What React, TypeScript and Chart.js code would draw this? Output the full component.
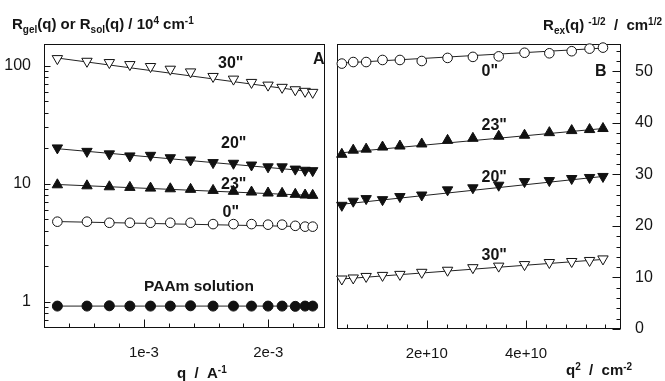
import React, { useEffect, useRef } from 'react';
import { Chart, registerables } from 'chart.js';

Chart.register(...registerables);

// ---------- DATA ----------
// Panel A: q in Å^-1
const qA = [3.04e-4, 5.42e-4, 7.22e-4, 8.87e-4, 1.053e-3, 1.212e-3, 1.375e-3, 1.556e-3, 1.72e-3, 1.865e-3, 1.998e-3, 2.111e-3, 2.217e-3, 2.296e-3, 2.357e-3];
const rgel30 = [114.7, 108.9, 106.2, 102.1, 98.3, 93.3, 88.5, 81.0, 76.9, 72.1, 68.4, 65.5, 62.5, 60.6, 59.4];
const rgel20 = [20.1, 18.8, 17.9, 17.2, 17.4, 16.6, 15.9, 15.1, 14.9, 14.4, 13.9, 13.9, 13.3, 13.0, 12.9];
const rgel23 = [9.79, 9.6, 9.42, 9.31, 9.18, 9.06, 8.96, 8.78, 8.62, 8.5, 8.34, 8.29, 8.13, 8.02, 7.97];
const rgel0 = [4.77, 4.77, 4.67, 4.67, 4.67, 4.67, 4.67, 4.55, 4.55, 4.55, 4.5, 4.5, 4.4, 4.33, 4.33];
const rsol = [0.92, 0.92, 0.925, 0.92, 0.92, 0.92, 0.925, 0.92, 0.92, 0.92, 0.92, 0.92, 0.915, 0.92, 0.92];
// fitted lines of panel A (first / last q)
const fitA_x = [3.04e-4, 2.357e-3];
const fitA30 = [116, 59.5];
const fitA20 = [19.8, 12.7];
const fitA23 = [9.85, 7.95];
const fitA0 = [4.78, 4.32];
const fitAsol = [0.92, 0.92];

// Panel B: q^2 in cm^-2
const q2B = [0.29e10, 0.52e10, 0.78e10, 1.11e10, 1.46e10, 1.9e10, 2.42e10, 2.93e10, 3.45e10, 3.97e10, 4.47e10, 4.92e10, 5.28e10, 5.55e10];
const rex0 = [51.5, 51.8, 51.8, 52.2, 52.2, 52.0, 52.6, 52.8, 52.9, 53.6, 53.5, 53.9, 54.4, 54.6];
const rex23 = [33.9, 34.7, 34.9, 35.3, 35.5, 35.9, 36.6, 37.0, 37.4, 37.6, 38.1, 38.5, 38.7, 38.9];
const rex20 = [24.0, 24.8, 25.3, 25.1, 25.7, 26.0, 27.0, 27.4, 27.9, 28.6, 28.8, 29.2, 29.4, 29.6];
const rex30 = [9.7, 9.9, 10.2, 10.4, 10.6, 11.0, 11.4, 11.9, 12.2, 12.5, 12.9, 13.1, 13.3, 13.6];
const fitB_x = [0.29e10, 5.55e10];
const fitB0 = [51.6, 54.5];
const fitB23 = [34.2, 38.9];
const fitB20 = [24.2, 29.6];
const fitB30 = [9.7, 13.5];

// Ticks
const axA_xMajor = [1e-3, 2e-3];
const axA_xLabels = ['1e-3', '2e-3'];
const axA_xMinor = [4e-4, 6e-4, 8e-4, 1.2e-3, 1.4e-3, 1.6e-3, 1.8e-3, 2.2e-3, 2.4e-3];
const axA_yMajor = [1, 10, 100];
const axA_yLabels = ['1', '10', '100'];
const axA_yMinor = [0.7, 0.8, 0.9, 2, 3, 4, 5, 6, 7, 8, 9, 20, 30, 40, 50, 60, 70, 80, 90];
const axB_xMajor = [2e10, 4e10];
const axB_xLabels = ['2e+10', '4e+10'];
const axB_xMinor = [0.4e10, 0.8e10, 1.2e10, 1.6e10, 2.4e10, 2.8e10, 3.2e10, 3.6e10, 4.4e10, 4.8e10, 5.2e10, 5.6e10];
const axB_yMajor = [0, 10, 20, 30, 40, 50];
const axB_yLabels = ['0', '10', '20', '30', '40', '50'];
const axB_yMinor = [2, 4, 6, 8, 12, 14, 16, 18, 22, 24, 26, 28, 32, 34, 36, 38, 42, 44, 46, 48, 52, 54];

// ---------- STYLE ----------
const FONT = '"Liberation Sans", Arial, Helvetica, sans-serif';
const INK = '#151515';
const W = 665;
const H = 381;
const TRI_R = 6;
const CIR_R = 4.8;

type Seg = [string, number]; // 0 normal, 1 sup, -1 sub
type Txt = { segs: Seg[]; x: number; y: number; size?: number; align?: 'left' | 'right' };

function drawRich(ctx: CanvasRenderingContext2D, t: Txt) {
  const size = t.size ?? 15;
  const small = Math.round(size * 0.68);
  const widths = t.segs.map(([s, m]) => {
    ctx.font = `bold ${m ? small : size}px ${FONT}`;
    return ctx.measureText(s).width;
  });
  const total = widths.reduce((a, b) => a + b, 0);
  let cx = t.align === 'right' ? t.x - total : t.x;
  ctx.textAlign = 'left';
  ctx.textBaseline = 'alphabetic';
  ctx.fillStyle = INK;
  t.segs.forEach(([s, m], i) => {
    ctx.font = `bold ${m ? small : size}px ${FONT}`;
    const dy = m === 1 ? -size * 0.36 : m === -1 ? size * 0.24 : 0;
    ctx.fillText(s, cx, t.y + dy);
    cx += widths[i];
  });
}

function makeFramePlugin(cfg: {
  xMajor: number[]; xMinor: number[]; yMajor: number[]; yMinor: number[];
  ySide: 'left' | 'right'; texts: Txt[]; offsetX: number;
}) {
  return {
    id: 'frameTicks',
    beforeDatasetsDraw(chart: any) {
      const { ctx, chartArea: a, scales } = chart;
      const xs = scales.x;
      const ys = scales.y;
      const L = Math.round(a.left) + 0.5;
      const R = Math.round(a.right) - 0.5;
      const T = Math.round(a.top) + 0.5;
      const B = Math.round(a.bottom) - 0.5;
      ctx.save();
      ctx.strokeStyle = '#111';
      ctx.lineWidth = 1;
      ctx.strokeRect(L, T, R - L, B - T);
      ctx.beginPath();
      const xt = (v: number, len: number) => {
        const p = Math.round(xs.getPixelForValue(v)) + 0.5;
        ctx.moveTo(p, B);
        ctx.lineTo(p, B - len);
      };
      const yt = (v: number, len: number) => {
        const p = Math.round(ys.getPixelForValue(v)) + 0.5;
        if (cfg.ySide === 'left') {
          ctx.moveTo(L, p);
          ctx.lineTo(L + len, p);
        } else {
          ctx.moveTo(R, p);
          ctx.lineTo(R - len, p);
        }
      };
      cfg.xMinor.forEach((v) => xt(v, 4));
      cfg.xMajor.forEach((v) => xt(v, 8));
      cfg.yMinor.forEach((v) => yt(v, 4));
      cfg.yMajor.forEach((v) => yt(v, cfg.ySide === 'left' ? 6 : 8));
      ctx.stroke();
      ctx.restore();
    },
    afterDraw(chart: any) {
      const ctx = chart.ctx;
      ctx.save();
      cfg.texts.forEach((t) => drawRich(ctx, { ...t, x: t.x - cfg.offsetX }));
      ctx.restore();
    },
  };
}

const pts = (xs: number[], ys: number[]) => xs.map((x, i) => ({ x, y: ys[i] }));

const markerSet = (label: string, xs: number[], ys: number[], style: string, filled: boolean, rot: number, r: number) => ({
  label,
  data: pts(xs, ys),
  showLine: false,
  pointStyle: style,
  rotation: rot,
  pointRadius: r,
  pointBackgroundColor: filled ? '#111' : '#fff',
  pointBorderColor: '#111',
  pointBorderWidth: 1,
  clip: false,
  order: 1,
});

const fitSet = (label: string, xs: number[], ys: number[]) => ({
  label,
  data: pts(xs, ys),
  showLine: true,
  pointRadius: 0,
  borderColor: '#222',
  borderWidth: 1,
  order: 2,
});

const xTickFont = { family: FONT, size: 15 };
const yTickFont = { family: FONT, size: 16 };
const LBL = 16;

const leftTexts: Txt[] = [
  { segs: [['R', 0], ['gel', -1], ['(q) or R', 0], ['sol', -1], ['(q) / 10', 0], ['4', 1], [' cm', 0], ['-1', 1]], x: 12, y: 29 },
  { segs: [['q  /  A', 0], ['-1', 1]], x: 177, y: 378 },
  { segs: [['30"', 0]], x: 218, y: 68, size: LBL },
  { segs: [['20"', 0]], x: 221, y: 148, size: LBL },
  { segs: [['23"', 0]], x: 221, y: 188.5, size: LBL },
  { segs: [['0"', 0]], x: 222.5, y: 216.5, size: LBL },
  { segs: [['PAAm solution', 0]], x: 144, y: 290.5, size: 15.5 },
  { segs: [['A', 0]], x: 313, y: 64, size: LBL },
];

const rightTexts: Txt[] = [
  { segs: [['R', 0], ['ex', -1], ['(q) ', 0], ['-1/2', 1], ['  /  cm', 0], ['1/2', 1]], x: 662, y: 30, align: 'right' },
  { segs: [['q', 0], ['2', 1], ['  /  cm', 0], ['-2', 1]], x: 566, y: 375 },
  { segs: [['B', 0]], x: 595, y: 75.5, size: LBL },
  { segs: [['0"', 0]], x: 481.5, y: 76, size: LBL },
  { segs: [['23"', 0]], x: 481.5, y: 130, size: LBL },
  { segs: [['20"', 0]], x: 481.5, y: 181.5, size: LBL },
  { segs: [['30"', 0]], x: 481.5, y: 260, size: LBL },
];

const LEFT_W = 332;
const RIGHT_X = 330;
const RIGHT_W = W - RIGHT_X;

export default function App() {
  const leftRef = useRef<HTMLCanvasElement>(null);
  const rightRef = useRef<HTMLCanvasElement>(null);

  useEffect(() => {
    const left = new Chart(leftRef.current as HTMLCanvasElement, {
      type: 'scatter',
      data: {
        datasets: [
          fitSet('fit30', fitA_x, fitA30),
          fitSet('fit20', fitA_x, fitA20),
          fitSet('fit23', fitA_x, fitA23),
          fitSet('fit0', fitA_x, fitA0),
          fitSet('fitsol', fitA_x, fitAsol),
          markerSet('30"', qA, rgel30, 'triangle', false, 180, TRI_R),
          markerSet('20"', qA, rgel20, 'triangle', true, 180, TRI_R),
          markerSet('23"', qA, rgel23, 'triangle', true, 0, TRI_R),
          markerSet('0"', qA, rgel0, 'circle', false, 0, CIR_R),
          markerSet('PAAm solution', qA, rsol, 'circle', true, 0, 5),
        ] as any,
      },
      options: {
        animation: false,
        responsive: false,
        maintainAspectRatio: false,
        layout: { padding: { left: 0, right: LEFT_W - 328, top: 44, bottom: 0 } },
        plugins: { legend: { display: false }, tooltip: { enabled: false } },
        scales: {
          x: {
            type: 'linear',
            min: 1.965e-4,
            max: 2.456e-3,
            grid: { display: false },
            border: { display: false },
            afterBuildTicks: (s: any) => { s.ticks = axA_xMajor.map((v) => ({ value: v })); },
            afterFit: (s: any) => { s.height = H - 328; },
            ticks: {
              autoSkip: false, maxRotation: 0, padding: 8, color: INK, font: xTickFont,
              callback: (v: any) => { const i = axA_xMajor.findIndex((m) => Math.abs(m - v) < 1e-9); return i >= 0 ? axA_xLabels[i] : ''; },
            },
          },
          y: {
            type: 'logarithmic',
            min: 0.611,
            max: 152.5,
            grid: { display: false },
            border: { display: false },
            afterBuildTicks: (s: any) => { s.ticks = axA_yMajor.map((v) => ({ value: v })); },
            afterFit: (s: any) => { s.width = 44; },
            ticks: {
              autoSkip: false, padding: 5, color: INK, font: yTickFont,
              callback: (v: any) => { const i = axA_yMajor.findIndex((m) => Math.abs(m - v) < 1e-6); return i >= 0 ? axA_yLabels[i] : ''; },
            },
          },
        },
      } as any,
      plugins: [makeFramePlugin({ xMajor: axA_xMajor, xMinor: axA_xMinor, yMajor: axA_yMajor, yMinor: axA_yMinor, ySide: 'left', texts: leftTexts, offsetX: 0 })],
    });

    const right = new Chart(rightRef.current as HTMLCanvasElement, {
      type: 'scatter',
      data: {
        datasets: [
          fitSet('fit0', fitB_x, fitB0),
          fitSet('fit23', fitB_x, fitB23),
          fitSet('fit20', fitB_x, fitB20),
          fitSet('fit30', fitB_x, fitB30),
          markerSet('0"', q2B, rex0, 'circle', false, 0, CIR_R),
          markerSet('23"', q2B, rex23, 'triangle', true, 0, TRI_R),
          markerSet('20"', q2B, rex20, 'triangle', true, 180, TRI_R),
          markerSet('30"', q2B, rex30, 'triangle', false, 180, TRI_R),
        ] as any,
      },
      options: {
        animation: false,
        responsive: false,
        maintainAspectRatio: false,
        layout: { padding: { left: 337 - RIGHT_X, right: 0, top: 44, bottom: 0 } },
        plugins: { legend: { display: false }, tooltip: { enabled: false } },
        scales: {
          x: {
            type: 'linear',
            min: 0.193e10,
            max: 5.913e10,
            grid: { display: false },
            border: { display: false },
            afterBuildTicks: (s: any) => { s.ticks = axB_xMajor.map((v) => ({ value: v })); },
            afterFit: (s: any) => { s.height = H - 329; },
            ticks: {
              autoSkip: false, maxRotation: 0, padding: 8, color: INK, font: xTickFont,
              callback: (v: any) => { const i = axB_xMajor.findIndex((m) => Math.abs(m - v) < 1e3); return i >= 0 ? axB_xLabels[i] : ''; },
            },
          },
          y: {
            type: 'linear',
            position: 'right',
            min: 0,
            max: 55.3,
            grid: { display: false },
            border: { display: false },
            afterBuildTicks: (s: any) => { s.ticks = axB_yMajor.map((v) => ({ value: v })); },
            afterFit: (s: any) => { s.width = RIGHT_W - (621 - RIGHT_X); },
            ticks: {
              autoSkip: false, padding: 6, color: INK, font: yTickFont,
              callback: (v: any) => { const i = axB_yMajor.findIndex((m) => Math.abs(m - v) < 1e-6); return i >= 0 ? axB_yLabels[i] : ''; },
            },
          },
        },
      } as any,
      plugins: [makeFramePlugin({ xMajor: axB_xMajor, xMinor: axB_xMinor, yMajor: axB_yMajor, yMinor: axB_yMinor, ySide: 'right', texts: rightTexts, offsetX: RIGHT_X })],
    });

    return () => {
      left.destroy();
      right.destroy();
    };
  }, []);

  return (
    <div style={{ position: 'absolute', left: 0, top: 0, width: W, height: H, background: '#fff', overflow: 'hidden' }}>
      <canvas ref={leftRef} width={LEFT_W} height={H} style={{ position: 'absolute', left: 0, top: 0, width: LEFT_W, height: H }} />
      <canvas ref={rightRef} width={RIGHT_W} height={H} style={{ position: 'absolute', left: RIGHT_X, top: 0, width: RIGHT_W, height: H }} />
    </div>
  );
}
